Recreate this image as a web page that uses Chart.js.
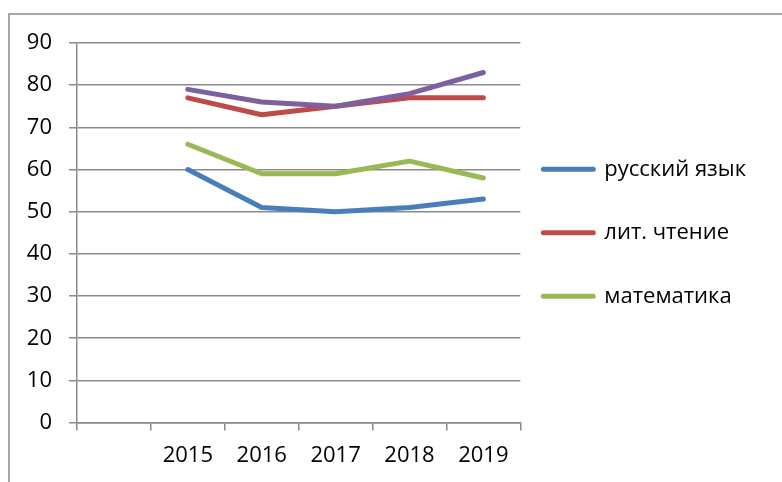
<!DOCTYPE html>
<html>
<head>
<meta charset="utf-8">
<script src="https://cdn.jsdelivr.net/npm/chart.js@4/dist/chart.umd.min.js"></script>
<style>
html, body { margin: 0; padding: 0; background: #ffffff; }
#wrap { position: absolute; left: 0; top: 0; width: 782px; height: 482px; }
</style>
</head>
<body>
<div id="wrap"><canvas id="c"></canvas></div>
<script>
const categories = ['', '2015', '2016', '2017', '2018', '2019'];
const seriesNames = ['русский язык', 'лит. чтение', 'математика', ''];
const russian = [60, 51, 50, 51, 53];
const reading = [77, 73, 75, 77, 77];
const maths = [66, 59, 59, 62, 58];
const fourth = [79, 76, 75, 78, 83];
const yTicks = [0, 10, 20, 30, 40, 50, 60, 70, 80, 90];

const colors = ['#4A7EBB', '#BE4B48', '#98B954', '#7D60A0'];
const allSeries = [russian, reading, maths, fourth];

const FONT = "'Open Sans', 'DejaVu Sans', sans-serif";

const frame = {
  id: 'frame',
  beforeDraw(chart) {
    const ctx = chart.ctx;
    ctx.save();
    ctx.strokeStyle = '#8a8a8a';
    ctx.lineWidth = 1.5;
    ctx.strokeRect(9, 14, 800, 500);
    ctx.restore();
  }
};

new Chart(document.getElementById('c'), {
  type: 'line',
  data: {
    labels: categories,
    datasets: allSeries.map((vals, i) => ({
      label: seriesNames[i],
      data: [null].concat(vals),
      borderColor: colors[i],
      backgroundColor: colors[i],
      borderWidth: 5,
      borderCapStyle: 'round',
      borderJoinStyle: 'round',
      pointRadius: 0,
      pointHoverRadius: 0,
      tension: 0,
      fill: false,
      order: i === 3 ? -1 : i
    }))
  },
  options: {
    responsive: true,
    maintainAspectRatio: false,
    animation: false,
    events: [],
    layout: { padding: { left: 0, top: 43, right: 26, bottom: 1 } },
    plugins: {
      title: { display: false },
      tooltip: { enabled: false },
      legend: {
        position: 'right',
        align: 'center',
        fullSize: false,
        maxWidth: 400,
        title: { display: true, text: ' ', font: { size: 10, lineHeight: '18.5px' }, padding: 0 },
        labels: {
          font: { family: FONT, size: 22, lineHeight: '40.5px' },
          color: '#000000',
          padding: 23,
          boxWidth: 50,
          usePointStyle: true,
          pointStyle: 'line',
          pointStyleWidth: 50,
          generateLabels(chart) {
            return chart.data.datasets
              .map((ds, i) => ({
                text: [ds.label],
                fillStyle: ds.borderColor,
                strokeStyle: ds.borderColor,
                lineWidth: 5,
                lineCap: 'round',
                pointStyle: 'line',
                hidden: false,
                datasetIndex: i,
                fontColor: '#000000'
              }))
              .filter(item => seriesNames[item.datasetIndex] !== '');
          }
        }
      }
    },
    scales: {
      x: {
        type: 'category',
        offset: true,
        grid: {
          offset: true,
          drawOnChartArea: false,
          drawTicks: true,
          tickLength: 8,
          color: '#8a8a8a',
          lineWidth: 1.5
        },
        border: { display: true, color: '#8a8a8a', width: 1.5 },
        ticks: {
          font: { family: FONT, size: 22 },
          color: '#000000',
          padding: 12,
          maxRotation: 0,
          autoSkip: false
        }
      },
      y: {
        min: 0,
        max: 90,
        afterBuildTicks(scale) {
          scale.ticks = yTicks.map(v => ({ value: v }));
        },
        afterFit(scale) { scale.width = 77; },
        grid: {
          color: '#8a8a8a',
          lineWidth: 1.5,
          tickLength: 8,
          drawTicks: true
        },
        border: { display: true, color: '#8a8a8a', width: 1.5 },
        ticks: {
          font: { family: FONT, size: 22 },
          color: '#000000',
          padding: 17
        }
      }
    }
  },
  plugins: [frame]
});
</script>
</body>
</html>
